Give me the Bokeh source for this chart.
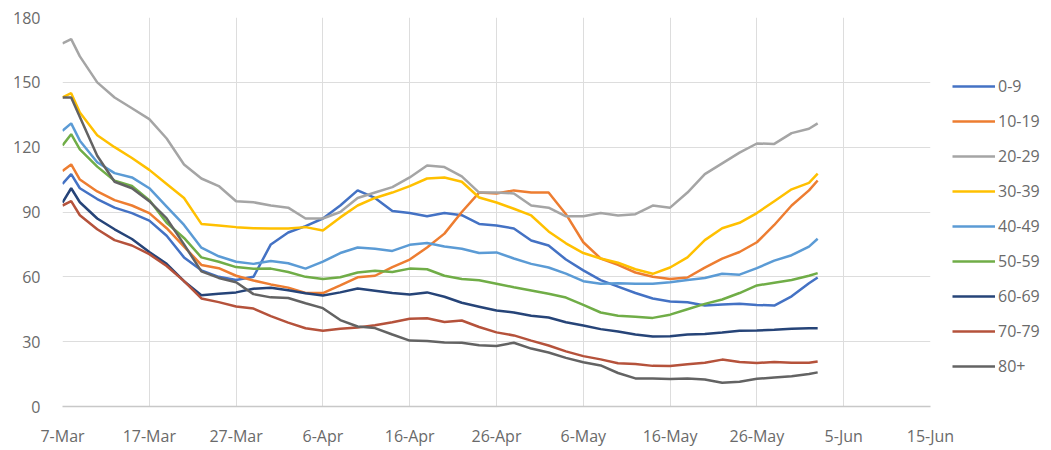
from bokeh.plotting import figure
from bokeh.models import Range1d, FixedTicker, Legend, LegendItem
from bokeh.embed import file_html
from bokeh.resources import INLINE

# day offsets from 7-Mar
day = [0, 1, 2, 4, 6, 8, 10, 12, 14, 16, 18, 20, 22, 24, 26, 28, 30, 32, 34, 36, 38, 40, 42,
       44, 46, 48, 50, 52, 54, 56, 58, 60, 62, 64, 66, 68, 70, 72, 74, 76, 78, 80, 82, 84, 86, 87]

age_0_9 = [103, 107.5, 101, 96, 92, 89.5, 86, 79, 69, 63, 60, 58.5, 60, 75, 80.5, 83.5, 87, 93, 100, 96.5, 90.5, 89.5, 88,
           89.5, 88.5, 84.5, 83.8, 82.4, 76.8, 74.5, 68, 63, 58.5, 55.5, 52.5, 50, 48.6, 48.2, 46.7, 47.2, 47.5, 47, 46.7, 51, 57, 59.7]
age_10_19 = [109, 112, 105, 99.5, 95.5, 93, 89.5, 82.5, 74, 65.5, 64, 60.5, 58.3, 56.5, 55, 52.5, 52.5, 56, 59.8, 60.5, 64.5, 68, 73.6,
             80, 90, 99, 98.6, 100, 99, 99, 89, 76, 68.5, 65.5, 62, 60, 59, 59.7, 64.3, 68.4, 71.5, 76, 84, 93, 100, 104.6]
age_20_29 = [168, 170, 162, 150, 143, 138, 133, 124, 112, 105.5, 102, 95, 94.5, 93, 92, 87, 87, 90, 96.5, 99, 101.5, 106, 111.5,
             110.8, 106.5, 99, 99, 98.6, 93, 92, 88, 88, 89.5, 88.4, 89, 93, 92, 99, 107.5, 112.5, 117.5, 121.7, 121.5, 126.5, 128.5, 131]
age_30_39 = [143, 145, 136, 125.5, 120, 115, 109.5, 103, 96.5, 84.5, 83.8, 83, 82.5, 82.4, 82.4, 83, 81.4, 87.5, 93, 96.5, 99, 102, 105.5,
             106, 104, 96.7, 94.4, 91.5, 88.4, 81, 75.5, 71, 68.5, 66.5, 63.5, 61.4, 64.3, 69, 77, 82.5, 85, 89.5, 95, 100.5, 103.5, 107.8]
age_40_49 = [127.6, 131, 123, 113, 108, 106, 101, 92.5, 84, 73.5, 69.5, 67, 66, 67.3, 66.3, 63.8, 67, 71, 73.6, 73, 72, 74.8, 75.7,
             74, 73, 71, 71.3, 68.5, 66, 64.3, 61.5, 58, 56.8, 57, 56.8, 56.8, 57.5, 58.5, 59.5, 61.4, 61, 64, 67.5, 70, 74, 77.6]
age_50_59 = [120.8, 126, 119, 111, 104.5, 102, 95.5, 85, 78, 69, 67, 64.5, 63.7, 63.8, 62.2, 60, 59, 59.8, 62, 62.8, 62.2, 63.8, 63.5,
             60.5, 59, 58.4, 56.8, 55.2, 53.7, 52.2, 50.4, 47, 43.5, 42, 41.5, 41, 42.5, 45, 47.5, 49.5, 52.5, 56, 57.3, 58.5, 60.5, 61.7]
age_60_69 = [94.4, 101, 94.5, 87, 82, 77.5, 71.5, 66, 58, 51.5, 52.2, 52.8, 54.5, 55, 53.8, 52.4, 51.4, 52.8, 54.6, 53.6, 52.5, 51.8, 52.8,
             50.8, 48, 46.2, 44.4, 43.5, 42, 41.2, 39, 37.5, 35.8, 34.7, 33.3, 32.4, 32.5, 33.3, 33.5, 34.2, 35, 35.2, 35.5, 36, 36.2, 36.2]
age_70_79 = [93, 95, 88.5, 82, 77, 74.5, 70.5, 65, 58, 50, 48.3, 46.3, 45.3, 41.8, 38.8, 36.2, 35, 36, 36.6, 37.6, 39, 40.6, 40.8,
             39.1, 39.8, 36.8, 34.3, 32.9, 30.5, 28.2, 25.5, 23.3, 21.8, 20, 19.7, 18.8, 18.7, 19.6, 20.2, 21.7, 20.6, 20.1, 20.6, 20.2, 20.2, 20.8]
age_80 = [143, 143, 134, 116, 104, 101, 95, 87, 75, 62.5, 59.5, 57.5, 52, 50.5, 50.2, 47.8, 45.5, 40, 37, 36.3, 33.3, 30.5, 30.3,
          29.6, 29.5, 28.3, 28, 29.5, 26.8, 25, 22.5, 20.5, 19, 15.5, 13, 13, 12.7, 13, 12.5, 11, 11.5, 12.8, 13.4, 14, 15, 15.8]

series_names = ["0-9", "10-19", "20-29", "30-39", "40-49", "50-59", "60-69", "70-79", "80+"]
series_values = [age_0_9, age_10_19, age_20_29, age_30_39, age_40_49, age_50_59, age_60_69, age_70_79, age_80]
series_colors = ["#4472C4", "#ED7D31", "#A5A5A5", "#FFC000", "#5B9BD5", "#70AD47", "#264478", "#B5523B", "#636363"]

tick_days = [0, 10, 20, 30, 40, 50, 60, 70, 80, 90, 100]
tick_labels = ["7-Mar", "17-Mar", "27-Mar", "6-Apr", "16-Apr", "26-Apr", "6-May", "16-May", "26-May", "5-Jun", "15-Jun"]
y_ticks = [0, 30, 60, 90, 120, 150, 180]

FONT = "Open Sans"
TXT = "#6a6a6a"
GRID = "#DDDDDD"

p = figure(frame_width=868, frame_height=389, output_backend="svg", toolbar_location=None,
           x_range=Range1d(0, 100), y_range=Range1d(0, 180),
           min_border_left=62, min_border_right=0, min_border_top=17, min_border_bottom=36)
p.outline_line_color = None
p.background_fill_color = "white"
p.border_fill_color = "white"

p.xaxis.ticker = FixedTicker(ticks=tick_days)
p.xaxis.major_label_overrides = {d: l for d, l in zip(tick_days, tick_labels)}
p.yaxis.ticker = FixedTicker(ticks=y_ticks)
for ax in (p.xaxis, p.yaxis):
    ax.major_tick_line_color = None
    ax.minor_tick_line_color = None
    ax.major_label_text_font = FONT
    ax.major_label_text_font_size = "16px"
    ax.major_label_text_color = TXT
p.yaxis.axis_line_color = None
p.xaxis.axis_line_color = "#C8C8C8"
p.xaxis.axis_line_width = 1.5
p.yaxis.major_label_standoff = 16
p.xaxis.major_label_standoff = 12

p.xgrid.ticker = FixedTicker(ticks=tick_days)
p.ygrid.ticker = FixedTicker(ticks=y_ticks)
p.xgrid.grid_line_color = GRID
p.ygrid.grid_line_color = GRID

items = []
for name, vals, col in zip(series_names, series_values, series_colors):
    r = p.line(day, vals, line_color=col, line_width=2.5)
    items.append(LegendItem(label=name, renderers=[r]))

legend = Legend(items=items, location=(22, 29), orientation="vertical",
                label_text_font=FONT, label_text_font_size="16px", label_text_color=TXT,
                glyph_width=43, glyph_height=20, label_height=20, label_standoff=3,
                spacing=13, padding=0, margin=0, border_line_color=None,
                background_fill_alpha=0)
p.add_layout(legend, "right")

open("out.html", "w").write(file_html(p, INLINE))
